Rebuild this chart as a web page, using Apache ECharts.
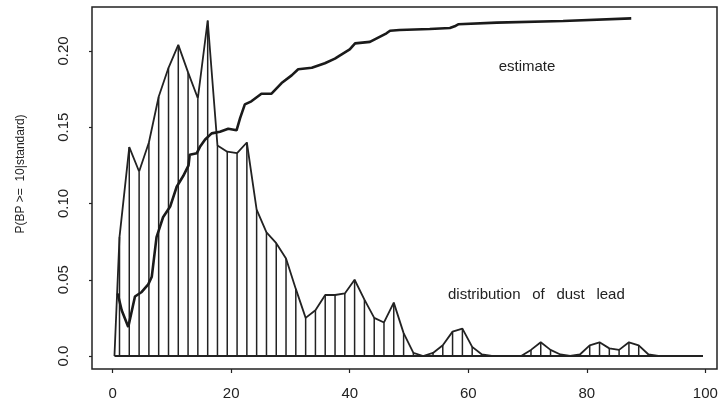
<!DOCTYPE html>
<html>
<head>
<meta charset="utf-8">
<script src="https://cdn.jsdelivr.net/npm/echarts@6/dist/echarts.min.js"></script>
<style>
  html, body { margin: 0; padding: 0; background: #fff; }
  #chart { width: 721px; height: 409px; }
</style>
</head>
<body>
<div id="chart"></div>
<script>
// Axis ticks
const xTicks = [0, 20, 40, 60, 80, 100];
const yTicks = [0, 0.05, 0.10, 0.15, 0.20];
const yTickLabels = ['0.0', '0.05', '0.10', '0.15', '0.20'];

// Distribution of dust lead: evaluation points and density heights
const leadX = [0.3, 1.15, 2.80, 4.46, 6.11, 7.76, 9.42, 11.07, 12.72, 14.37, 16.03,
  17.68, 19.33, 20.99, 22.64, 24.29, 25.95, 27.60, 29.25, 30.90, 32.56,
  34.21, 35.86, 37.52, 39.17, 40.82, 42.48, 44.13, 45.78, 47.43, 49.09,
  50.74, 52.39, 54.05, 55.70, 57.35, 59.01, 60.66, 62.31, 63.96, 65.62,
  67.27, 68.92, 70.58, 72.23, 73.88, 75.54, 77.19, 78.84, 80.49, 82.15,
  83.80, 85.45, 87.11, 88.76, 90.41, 92.07, 99.6];
const leadDensity = [0, 0.078, 0.137, 0.121, 0.140, 0.170, 0.189, 0.204, 0.186, 0.169, 0.220,
  0.138, 0.134, 0.133, 0.140, 0.096, 0.081, 0.074, 0.064, 0.044, 0.025,
  0.030, 0.040, 0.040, 0.041, 0.050, 0.037, 0.025, 0.022, 0.035, 0.015,
  0.002, 0, 0.002, 0.007, 0.016, 0.018, 0.006, 0.001, 0, 0,
  0, 0, 0.004, 0.009, 0.004, 0.001, 0, 0.001, 0.007, 0.009,
  0.005, 0.004, 0.009, 0.007, 0.001, 0, 0];

// Estimated P(BP >= 10 | standard) against dust lead
const estX = [0.84, 1.52, 2.63, 3.76, 4.9, 6.0, 6.6, 7.4, 8.0, 8.5, 9.7, 10.8, 11.9, 12.8,
  13.0, 14.2, 14.7, 15.6, 16.7, 18.1, 19.5, 20.9, 21.5, 22.3, 23.4, 25.1, 26.8,
  28.5, 30.2, 31.3, 33.6, 35.8, 37.5, 38.3, 40.0, 40.9, 43.4, 46.2, 46.8, 48.4,
  53.5, 56.9, 57.7, 58.3, 64.8, 76.0, 87.5];
const estP = [0.041, 0.030, 0.019, 0.039, 0.042, 0.047, 0.052, 0.078, 0.085, 0.091, 0.098,
  0.111, 0.118, 0.125, 0.132, 0.133, 0.137, 0.142, 0.146, 0.147, 0.149, 0.148, 0.156,
  0.165, 0.167, 0.172, 0.172, 0.179, 0.184, 0.188, 0.189, 0.192, 0.195, 0.197, 0.201,
  0.205, 0.206, 0.2116, 0.2133, 0.2138, 0.2144, 0.2151, 0.2162, 0.2175, 0.2186, 0.2197, 0.2214];

const ink = '#222';
const font = '"Liberation Sans", Arial, Helvetica, sans-serif';

const chart = echarts.init(document.getElementById('chart'), null, { renderer: 'canvas' });

const leadPairs = leadX.map((x, i) => [x, leadDensity[i]]);
const estPairs = estX.map((x, i) => [x, estP[i]]);

chart.setOption({
  animation: false,
  backgroundColor: '#fff',
  grid: {
    left: 92, top: 7, width: 625, height: 362,
    show: true, borderColor: ink, borderWidth: 1.5, backgroundColor: 'transparent',
    containLabel: false, outerBoundsMode: 'none'
  },
  xAxis: {
    type: 'value', min: -3.49, max: 101.97,
    splitLine: { show: false },
    axisLine: { show: false, onZero: false },
    axisTick: { show: true, customValues: xTicks, length: 4, lineStyle: { color: ink, width: 1.2 } },
    axisLabel: {
      customValues: xTicks, margin: 17, color: ink,
      fontFamily: font, fontSize: 15
    }
  },
  yAxis: {
    type: 'value', min: -0.00852, max: 0.22885,
    splitLine: { show: false },
    axisLine: { show: false, onZero: false },
    axisTick: { show: true, customValues: yTicks, length: 3, lineStyle: { color: ink, width: 1.2 } },
    axisLabel: {
      customValues: yTicks, rotate: 90, margin: 21, color: ink,
      fontFamily: font, fontSize: 15,
      formatter: v => {
        const i = yTicks.findIndex(t => Math.abs(t - v) < 1e-9);
        return i >= 0 ? yTickLabels[i] : '';
      }
    }
  },
  series: [
    {
      // vertical hatching under the distribution
      type: 'bar',
      data: leadPairs,
      barWidth: 1.5,
      itemStyle: { color: ink },
      silent: true
    },
    {
      // outline of the distribution
      type: 'line',
      data: leadPairs,
      showSymbol: false,
      symbol: 'none',
      lineStyle: { color: ink, width: 1.8 },
      markLine: {
        silent: true,
        symbol: 'none',
        label: { show: false },
        lineStyle: { color: ink, width: 1.8, type: 'solid' },
        data: [[{ coord: [leadX[0], 0] }, { coord: [leadX[leadX.length - 1], 0] }]]
      }
    },
    {
      type: 'line',
      data: estPairs,
      showSymbol: false,
      symbol: 'none',
      lineStyle: { color: '#1a1a1a', width: 2.6 }
    }
  ],
  graphic: [
    {
      type: 'text', x: 21, y: 174, rotation: Math.PI / 2,
      style: {
        text: 'P(BP >=  10|standard)', fill: ink, font: '12px ' + font,
        align: 'center', verticalAlign: 'middle'
      }
    },
    {
      type: 'text', x: 527, y: 67,
      style: {
        text: 'estimate', fill: ink, font: '15px ' + font,
        align: 'center', verticalAlign: 'middle'
      }
    },
    {
      type: 'text', x: 448, y: 295,
      style: {
        text: 'distribution\u2002 of\u2002 dust\u2002 lead', fill: ink, font: '15px ' + font,
        align: 'left', verticalAlign: 'middle'
      }
    }
  ]
});
</script>
</body>
</html>
